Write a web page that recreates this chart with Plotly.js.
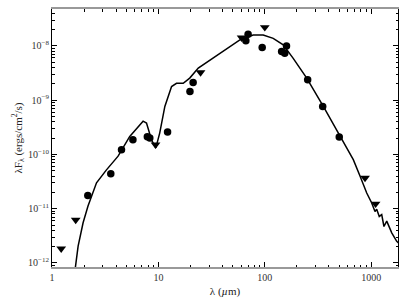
<!DOCTYPE html>
<html>
<head>
<meta charset="utf-8">
<script src="https://cdn.plot.ly/plotly-3.0.1.min.js"></script>
<style>
	html, body { margin: 0; padding: 0; background: #fff; }
	#sed { width: 407px; height: 303px; }
</style>
</head>
<body>
<div id="sed"></div>
<script>
(function () {

	'use strict';

	// photometry detections (µm, ergs/cm^2/s)
	const detWave = [2.17, 3.57, 4.5, 5.76, 7.87, 8.3, 12.2, 19.8, 21.2, 66.4, 69.7, 94.5, 144, 154, 160, 253, 350, 501];
	const detFlux = [1.75e-11, 4.43e-11, 1.22e-10, 1.87e-10, 2.12e-10, 2.0e-10, 2.59e-10, 1.44e-9, 2.11e-9, 1.24e-8, 1.64e-8, 9.3e-9, 7.86e-9, 7.3e-9, 1.0e-8, 2.37e-9, 7.66e-10, 2.1e-10];

	// upper limits
	const limWave = [1.22, 1.67, 9.4, 24.9, 60.5, 100, 875, 1100];
	const limFlux = [1.83e-12, 6.2e-12, 1.51e-10, 3.24e-9, 1.42e-8, 2.2e-8, 3.7e-11, 1.23e-11];

	// model SED
	const modelWave = [1.64, 1.76, 1.96, 2.18, 2.62, 3.25, 4.18, 5.38, 7.18, 7.73, 8.61, 9.46, 10.3, 11.5, 13.3, 14.8, 17.1, 19.7, 23.7, 30.5, 40.6, 58.3, 77.8, 96.6, 120, 149, 185, 247, 355, 509, 596, 679, 785, 908, 1009, 1086, 1127, 1191, 1256, 1318, 1400, 1560, 1738, 1820];
	const modelFlux = [7.0e-13, 2.04e-12, 5.5e-12, 1.12e-11, 3.0e-11, 5.2e-11, 9.3e-11, 2.15e-10, 4.1e-10, 3.8e-10, 1.86e-10, 1.32e-10, 2.5e-10, 7.66e-10, 1.78e-9, 2.04e-9, 2.04e-9, 2.55e-9, 3.9e-9, 5.5e-9, 7.85e-9, 1.29e-8, 1.58e-8, 1.58e-8, 1.38e-8, 1.05e-8, 5.9e-9, 2.57e-9, 7.66e-10, 2.15e-10, 1.23e-10, 8.0e-11, 4.0e-11, 1.95e-11, 1.29e-11, 8.9e-12, 9.8e-12, 7.2e-12, 7.8e-12, 4.7e-12, 5.9e-12, 3.6e-12, 2.5e-12, 2.3e-12];

	// tick labels
	const xTickVals = [1, 10, 100, 1000];
	const xTickText = ['1', '10', '100', '1000'];
	const yTickVals = [1e-12, 1e-11, 1e-10, 1e-9, 1e-8];
	const yTickText = ['10<sup>−12</sup>', '10<sup>−11</sup>', '10<sup>−10</sup>', '10<sup>−9</sup>', '10<sup>−8</sup>'];

	const serif = 'Liberation Serif, DejaVu Serif, serif';

	// minor ticks 2..9 in each decade
	const minorTicks = ( lo, hi ) => {
		const out = [];
		for( let e = lo; e <= hi; e++ ){
			for( let m = 2; m <= 9; m++ ) out.push( m * Math.pow( 10, e ));
		}
		return out;
	};

	const data = [
		{
			x: modelWave,
			y: modelFlux,
			type: 'scatter',
			mode: 'lines',
			line: { color: '#000', width: 1.5 },
			hoverinfo: 'skip',
		},
		{
			x: detWave,
			y: detFlux,
			type: 'scatter',
			mode: 'markers',
			marker: { symbol: 'circle', size: 7.5, color: '#000' },
		},
		{
			x: limWave,
			y: limFlux,
			type: 'scatter',
			mode: 'markers',
			marker: { symbol: 'triangle-down', size: 8.5, color: '#000' },
		},
	];

	const axisCommon = {
		type: 'log',
		showgrid: false,
		zeroline: false,
		showline: true,
		linecolor: '#000',
		linewidth: 1,
		mirror: 'ticks',
		ticks: 'inside',
		ticklen: 5,
		tickwidth: 1,
		tickcolor: '#000',
		tickfont: { family: serif, size: 10, color: '#333' },
	};

	const layout = {
		width: 407,
		height: 303,
		margin: { l: 52, r: 9, t: 9, b: 36 },
		paper_bgcolor: '#fff',
		plot_bgcolor: '#fff',
		showlegend: false,
		xaxis: Object.assign({}, axisCommon, {
			range: [0, 3.252],
			tickmode: 'array',
			tickvals: xTickVals,
			ticktext: xTickText,
			linecolor: '#999',
			linewidth: 2,
			minor: {
				tickmode: 'array',
				tickvals: minorTicks( 0, 3 ),
				ticks: 'inside',
				ticklen: 2.5,
				tickcolor: '#000',
			},
			title: { text: 'λ (<i>µ</i>m)', font: { family: serif, size: 11, color: '#222' }, standoff: 5 },
		}),
		yaxis: Object.assign({}, axisCommon, {
			range: [-12.074, -7.32],
			tickmode: 'array',
			tickvals: yTickVals,
			ticktext: yTickText,
			minor: {
				tickmode: 'array',
				tickvals: minorTicks( -13, -8 ),
				ticks: 'inside',
				ticklen: 2.5,
				tickcolor: '#000',
			},
			title: { text: 'λF<sub>λ</sub> (ergs/cm<sup>2</sup>/s)', font: { family: serif, size: 11, color: '#222' }, standoff: 3 },
		}),
	};

	Plotly.newPlot( 'sed', data, layout, { displayModeBar: false, staticPlot: true });

})();
</script>
</body>
</html>
